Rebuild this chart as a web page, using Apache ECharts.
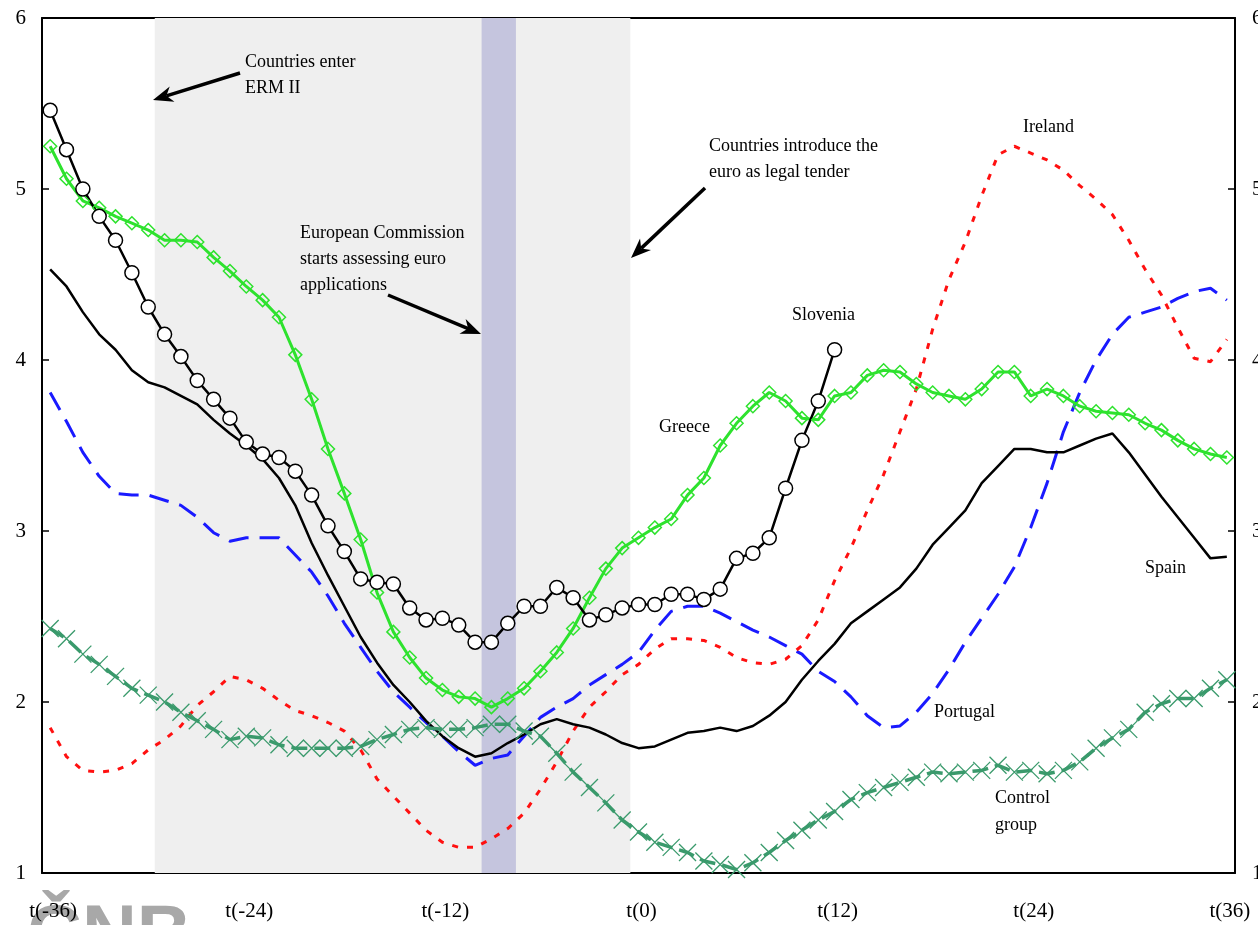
<!DOCTYPE html>
<html>
<head>
<meta charset="utf-8">
<script src="https://cdn.jsdelivr.net/npm/echarts@6/dist/echarts.min.js"></script>
<style>
html, body { margin: 0; padding: 0; background: #fff; }
#chart { width: 1258px; height: 925px; }
</style>
</head>
<body>
<div id="chart"></div>
<script>
// months relative to euro adoption
var categories = [];
for (var m = -36; m <= 36; m++) categories.push('t(' + m + ')');

var slovenia = [5.46, 5.23, 5.00, 4.84, 4.70, 4.51, 4.31, 4.15, 4.02, 3.88, 3.77, 3.66, 3.52, 3.45, 3.43, 3.35, 3.21, 3.03, 2.88, 2.72,
  2.70, 2.69, 2.55, 2.48, 2.49, 2.45, 2.35, 2.35, 2.46, 2.56, 2.56, 2.67, 2.61, 2.48, 2.51, 2.55, 2.57, 2.57, 2.63, 2.63,
  2.60, 2.66, 2.84, 2.87, 2.96, 3.25, 3.53, 3.76, 4.06];

var greece = [5.25, 5.06, 4.93, 4.89, 4.84, 4.80, 4.76, 4.70, 4.70, 4.69, 4.60, 4.52, 4.43, 4.35, 4.25, 4.03, 3.77, 3.48, 3.22, 2.95,
  2.64, 2.41, 2.26, 2.14, 2.07, 2.03, 2.02, 1.97, 2.02, 2.08, 2.18, 2.29, 2.43, 2.61, 2.78, 2.90, 2.96, 3.02, 3.07, 3.21,
  3.31, 3.50, 3.63, 3.73, 3.81, 3.76, 3.66, 3.65, 3.79, 3.81, 3.91, 3.94, 3.93, 3.86, 3.81, 3.79, 3.77, 3.83, 3.93, 3.93,
  3.79, 3.83, 3.79, 3.73, 3.70, 3.69, 3.68, 3.63, 3.59, 3.53, 3.48, 3.45, 3.43];

var spain = [4.53, 4.43, 4.28, 4.15, 4.06, 3.94, 3.87, 3.84, 3.79, 3.74, 3.65, 3.57, 3.50, 3.42, 3.31, 3.15, 2.93, 2.74, 2.56, 2.38,
  2.23, 2.10, 2.00, 1.89, 1.80, 1.73, 1.68, 1.70, 1.76, 1.81, 1.87, 1.90, 1.87, 1.85, 1.81, 1.76, 1.73, 1.74, 1.78, 1.82,
  1.83, 1.85, 1.83, 1.86, 1.92, 2.00, 2.13, 2.24, 2.34, 2.46, 2.53, 2.60, 2.67, 2.78, 2.92, 3.02, 3.12, 3.28, 3.38, 3.48,
  3.48, 3.46, 3.46, 3.50, 3.54, 3.57, 3.46, 3.33, 3.20, 3.08, 2.96, 2.84, 2.85];

var portugal = [3.81, 3.64, 3.46, 3.32, 3.22, 3.21, 3.21, 3.18, 3.15, 3.08, 2.99, 2.94, 2.96, 2.96, 2.96, 2.86, 2.76, 2.62, 2.46, 2.32,
  2.18, 2.06, 1.97, 1.88, 1.80, 1.71, 1.63, 1.67, 1.69, 1.80, 1.91, 1.97, 2.02, 2.10, 2.16, 2.22, 2.29, 2.42, 2.53, 2.56,
  2.56, 2.52, 2.47, 2.42, 2.38, 2.33, 2.28, 2.18, 2.12, 2.03, 1.92, 1.85, 1.86, 1.94, 2.05, 2.19, 2.35, 2.49, 2.63, 2.79,
  3.02, 3.28, 3.58, 3.81, 4.00, 4.15, 4.25, 4.28, 4.31, 4.36, 4.40, 4.42, 4.35];

var ireland = [1.85, 1.68, 1.60, 1.59, 1.60, 1.64, 1.72, 1.78, 1.86, 1.98, 2.06, 2.15, 2.13, 2.08, 2.01, 1.95, 1.92, 1.88, 1.83, 1.72,
  1.55, 1.45, 1.35, 1.25, 1.18, 1.15, 1.15, 1.20, 1.26, 1.35, 1.49, 1.65, 1.83, 1.97, 2.06, 2.16, 2.22, 2.31, 2.37, 2.37,
  2.36, 2.32, 2.26, 2.23, 2.22, 2.25, 2.33, 2.48, 2.71, 2.90, 3.12, 3.33, 3.58, 3.83, 4.18, 4.47, 4.69, 4.96, 5.20, 5.25,
  5.21, 5.17, 5.11, 5.02, 4.94, 4.85, 4.70, 4.53, 4.38, 4.19, 4.01, 3.99, 4.12];

var control = [2.43, 2.37, 2.28, 2.22, 2.15, 2.08, 2.04, 2.00, 1.94, 1.89, 1.84, 1.78, 1.80, 1.79, 1.75, 1.73, 1.73, 1.73, 1.73, 1.74,
  1.78, 1.81, 1.84, 1.85, 1.84, 1.84, 1.85, 1.87, 1.87, 1.83, 1.80, 1.70, 1.59, 1.50, 1.41, 1.31, 1.24, 1.18, 1.15, 1.12,
  1.07, 1.05, 1.02, 1.06, 1.12, 1.19, 1.25, 1.31, 1.36, 1.43, 1.47, 1.50, 1.53, 1.56, 1.59, 1.58, 1.59, 1.60, 1.63, 1.59,
  1.60, 1.58, 1.60, 1.65, 1.73, 1.79, 1.84, 1.94, 1.99, 2.02, 2.02, 2.08, 2.13];

// shaded periods, in months (band edges)
var ermPeriod = [-29.6, -0.5];
var ecPeriod = [-9.6, -7.5];

var serif = '"Liberation Serif", "Times New Roman", serif';

function makeText(x, y, txt, lh) {
  return {
    type: 'text', x: x, y: y, z: 10,
    style: { text: txt, font: '18px ' + serif, fill: '#000', verticalAlign: 'middle', lineHeight: lh || 25.5 }
  };
}

function makeArrow(x1, y1, x2, y2) {
  var dx = x2 - x1, dy = y2 - y1;
  var len = Math.sqrt(dx * dx + dy * dy);
  var ux = dx / len, uy = dy / len;
  var hl = 20, hw = 8;
  var bx = x2 - ux * hl, by = y2 - uy * hl;
  var nx = x2 - ux * hl * 0.7, ny = y2 - uy * hl * 0.7;
  return [
    { type: 'line', z: 10, shape: { x1: x1, y1: y1, x2: nx, y2: ny }, style: { stroke: '#000', lineWidth: 3.5 } },
    { type: 'polygon', z: 10, shape: { points: [[x2, y2], [bx - uy * hw, by + ux * hw], [nx, ny], [bx + uy * hw, by - ux * hw]] },
      style: { fill: '#000' } }
  ];
}

function lineSeries(name, data, color, width, dash, extra) {
  var s = {
    name: name, type: 'line', data: data,
    symbol: 'none', showAllSymbol: true, smooth: false,
    lineStyle: { color: color, width: width, type: dash || 'solid' },
    itemStyle: { color: color },
    emphasis: { disabled: true }
  };
  for (var k in extra) s[k] = extra[k];
  return s;
}

var graphics = [
  // CNB watermark at the bottom left
  { type: 'text', x: 27, y: 899, z: -5, style: { text: 'ČNB', font: 'bold 76px "Liberation Sans", Arial, sans-serif', fill: '#a8a8a8' } },
  makeText(245, 75.5, 'Countries enter\nERM II'),
  makeText(300, 259, 'European Commission\nstarts assessing euro\napplications', 26),
  makeText(709, 159.5, 'Countries introduce the\neuro as legal tender'),
  makeText(792, 315, 'Slovenia'),
  makeText(659, 427, 'Greece'),
  makeText(1023, 127, 'Ireland'),
  makeText(1145, 568, 'Spain'),
  makeText(934, 712, 'Portugal'),
  makeText(995, 811.5, 'Control\ngroup', 27)
];
graphics = graphics.concat(makeArrow(240, 73, 153, 100));
graphics = graphics.concat(makeArrow(388, 295, 481, 334));
graphics = graphics.concat(makeArrow(705, 188, 631, 258));

var option = {
  animation: false,
  backgroundColor: '#fff',
  grid: { left: 42, right: 23, top: 18, bottom: 52, outerBoundsMode: 'none', containLabel: false },
  xAxis: [{
    type: 'category', data: categories, boundaryGap: true, position: 'bottom',
    axisLine: { lineStyle: { color: '#000', width: 2 } },
    axisTick: { inside: true, length: 8, interval: 0, lineStyle: { color: '#333', width: 1.5 } },
    axisLabel: { interval: 11, margin: 28, color: '#000', fontSize: 21, fontFamily: serif, padding: [0, 0, 0, 6] },
    splitLine: { show: false }
  }, {
    // hidden month scale for the shaded periods; its line is the top border
    type: 'value', min: -36.5, max: 36.5, position: 'top', z: -2,
    axisLine: { show: true, onZero: false, lineStyle: { color: '#000', width: 2 } },
    axisTick: { show: false }, axisLabel: { show: false }, splitLine: { show: false }
  }],
  yAxis: [{
    type: 'value', min: 1, max: 6, interval: 1, position: 'left',
    axisLine: { show: true, onZero: false, lineStyle: { color: '#000', width: 2 } },
    axisTick: { show: true, inside: true, length: 7, lineStyle: { color: '#000', width: 1.5 } },
    axisLabel: { margin: 16, color: '#000', fontSize: 21, fontFamily: serif },
    splitLine: { show: false }
  }, {
    type: 'value', min: 1, max: 6, interval: 1, position: 'right',
    axisLine: { show: true, onZero: false, lineStyle: { color: '#000', width: 2 } },
    axisTick: { show: true, inside: true, length: 7, lineStyle: { color: '#000', width: 1.5 } },
    axisLabel: { margin: 17, color: '#000', fontSize: 21, fontFamily: serif },
    splitLine: { show: false }
  }],
  series: [
    {
      name: 'periods', type: 'line', xAxisIndex: 1, yAxisIndex: 0, data: [], z: -1, silent: true,
      markArea: {
        silent: true,
        data: [
          [{ xAxis: ermPeriod[0], itemStyle: { color: '#efefef' } }, { xAxis: ermPeriod[1] }],
          [{ xAxis: ecPeriod[0], itemStyle: { color: '#c5c5de' } }, { xAxis: ecPeriod[1] }]
        ]
      }
    },
    lineSeries('Portugal', portugal, '#1a1aff', 3, [20, 11]),
    lineSeries('Ireland', ireland, '#ff1010', 3, [6, 9]),
    lineSeries('Spain', spain, '#000', 2.5),
    lineSeries('Control group', control, '#3a9a6c', 3.5, [16, 7], {
      symbol: 'path://M0 0L16 16M16 0L0 16', symbolSize: 17,
      itemStyle: { color: '#3a9a6c', borderColor: '#3a9a6c', borderWidth: 1.3 }
    }),
    lineSeries('Greece', greece, '#2ee22e', 3, 'solid', {
      symbol: 'diamond', symbolSize: 13,
      itemStyle: { color: 'rgba(0,0,0,0)', borderColor: '#2ee22e', borderWidth: 1.5 }
    }),
    lineSeries('Slovenia', slovenia, '#000', 2.5, 'solid', {
      symbol: 'circle', symbolSize: 14,
      itemStyle: { color: '#fff', borderColor: '#000', borderWidth: 1.5 }
    })
  ],
  graphic: { elements: graphics }
};

var myChart = echarts.init(document.getElementById('chart'));
myChart.setOption(option);
</script>
</body>
</html>
